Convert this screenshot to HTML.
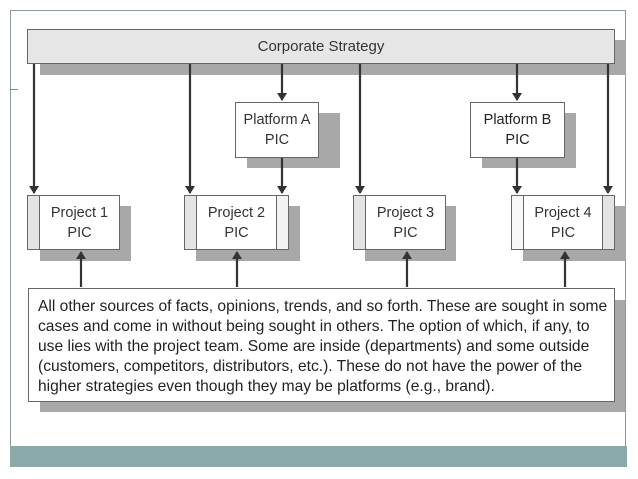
<!DOCTYPE html>
<html><head><style>
body{margin:0;width:638px;height:479px;background:#fff;position:relative;overflow:hidden;font-family:"Liberation Sans",sans-serif;color:#333}
.a{position:absolute}
.sh{position:absolute;background:#a8a8a8}
.box{position:absolute;background:#fff;border:1px solid #666;box-sizing:border-box;text-align:center;font-size:14.5px;line-height:20px}
.st{position:absolute;top:0;bottom:0;width:11px;background:#e4e4e4;border-right:1px solid #666}
.str{position:absolute;top:0;bottom:0;width:11px;background:#f2f2f2;border-left:1px solid #666;right:0}
</style></head><body>
<div class="a" style="left:10px;top:10px;width:616px;height:457px;border:1px solid #8a9a9a;box-sizing:border-box"></div>
<div class="a" style="left:10px;top:446px;width:617px;height:21px;background:#8aa9a9"></div>
<div class="a" style="left:10px;top:89px;width:8px;border-top:1px solid #888"></div>

<div class="sh" style="left:40px;top:40px;width:586px;height:35px"></div>
<div class="box" style="left:27px;top:29px;width:588px;height:35px;background:#e6e6e6;line-height:33px;font-size:15px">Corporate Strategy</div>

<div class="sh" style="left:247px;top:113px;width:93px;height:55px"></div>
<div class="box" style="left:235px;top:102px;width:84px;height:56px;padding-top:7px">Platform A<br>PIC</div>
<div class="sh" style="left:482px;top:113px;width:94px;height:55px"></div>
<div class="box" style="left:470px;top:102px;width:95px;height:56px;padding-top:7px;color:#222">Platform B<br>PIC</div>

<div class="sh" style="left:40px;top:206px;width:91px;height:55px"></div>
<div class="box" style="left:27px;top:195px;width:93px;height:55px;padding:7px 0 0 12px"><div class="st" style="left:0"></div>Project 1<br>PIC</div>
<div class="sh" style="left:196px;top:206px;width:104px;height:55px"></div>
<div class="box" style="left:184px;top:195px;width:105px;height:55px;padding-top:7px"><div class="st" style="left:0"></div><div class="str"></div>Project 2<br>PIC</div>
<div class="sh" style="left:365px;top:206px;width:91px;height:55px"></div>
<div class="box" style="left:353px;top:195px;width:93px;height:55px;padding:7px 0 0 12px"><div class="st" style="left:0"></div>Project 3<br>PIC</div>
<div class="sh" style="left:523px;top:206px;width:103px;height:55px"></div>
<div class="box" style="left:511px;top:195px;width:104px;height:55px;padding-top:7px"><div class="st" style="left:0;background:#f8f8f8"></div><div class="str" style="background:#e4e4e4"></div>Project 4<br>PIC</div>

<div class="sh" style="left:40px;top:300px;width:585px;height:112px"></div>
<div class="box" style="left:28px;top:288px;width:587px;height:114px;text-align:left;padding:8px 0 0 9px;font-size:15.6px;line-height:20px;color:#222;white-space:nowrap">All other sources of facts, opinions, trends, and so forth. These are sought in some<br>cases and come in without being sought in others. The option of which, if any, to<br>use lies with the project team. Some are inside (departments) and some outside<br>(customers, competitors, distributors, etc.). These do not have the power of the<br>higher strategies even though they may be platforms (e.g., brand).</div>

<svg class="a" style="left:0;top:0" width="638" height="479">
<defs><marker id="m" markerWidth="8" markerHeight="10" refX="7" refY="5" orient="auto" markerUnits="userSpaceOnUse"><path d="M0,0 L8,5 L0,10 Z" fill="#333"/></marker></defs>
<g stroke="#333" stroke-width="2.2" marker-end="url(#m)">
<line x1="34" y1="64" x2="34" y2="193"/>
<line x1="190" y1="64" x2="190" y2="193"/>
<line x1="282" y1="64" x2="282" y2="100"/>
<line x1="282" y1="158" x2="282" y2="193"/>
<line x1="360" y1="64" x2="360" y2="193"/>
<line x1="517" y1="64" x2="517" y2="100"/>
<line x1="517" y1="158" x2="517" y2="193"/>
<line x1="608" y1="64" x2="608" y2="193"/>
<line x1="81" y1="287" x2="81" y2="252"/>
<line x1="237" y1="287" x2="237" y2="252"/>
<line x1="407" y1="287" x2="407" y2="252"/>
<line x1="565" y1="287" x2="565" y2="252"/>
</g></svg>
</body></html>
